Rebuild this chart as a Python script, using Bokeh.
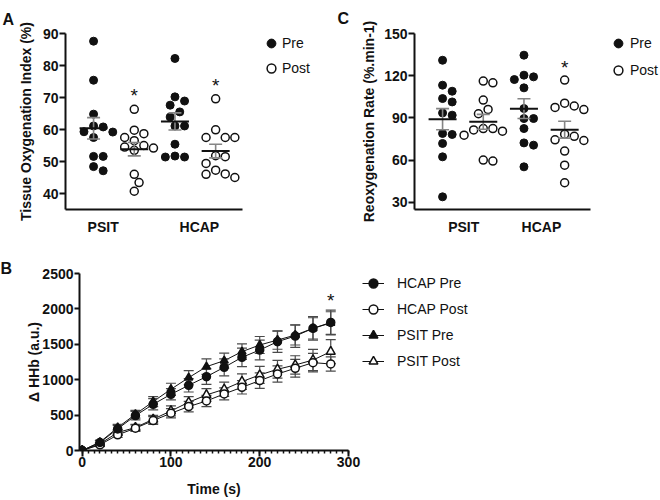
import numpy as np
from bokeh.plotting import figure
from bokeh.models import ColumnDataSource, Legend, LegendItem, Label, FixedTicker, Range1d, Spacer
from bokeh.layouts import column, row
from bokeh.embed import file_html
from bokeh.resources import INLINE
from bokeh.core.properties import value

FONT = "Liberation Sans"
INK = "#111111"

# ---------------- data ----------------
groups = ["PSIT", "HCAP"]
conditions = ["Pre", "Post"]

# Panel A: Tissue Oxygenation Index (%)
toi_psit_pre = [87.6, 75.4, 64.8, 61.1, 60.8, 59.3, 59.2, 57.5, 51.6, 51.6, 48.4, 47.1]
toi_psit_post = [66.3, 59.8, 58.7, 57.5, 56.5, 55.0, 54.5, 54.2, 53.5, 46.0, 43.4, 40.7]
toi_hcap_pre = [82.2, 70.2, 68.9, 67.6, 65.5, 63.9, 61.1, 61.1, 55.4, 51.4, 51.7, 51.4]
toi_hcap_post = [69.6, 59.9, 57.5, 57.5, 57.5, 51.8, 51.5, 49.4, 47.3, 46.1, 46.0, 45.0]
toi_significant = [False, True, False, True]
toi_yticks = [40, 50, 60, 70, 80, 90]

# Panel C: Reoxygenation rate (%.min-1)
reox_psit_pre = [131.0, 113.3, 109.0, 103.8, 101.4, 93.6, 92.0, 79.0, 78.3, 71.9, 62.4, 34.0]
reox_psit_post = [116.2, 115.0, 102.7, 96.1, 93.0, 82.5, 82.5, 81.5, 80.6, 77.8, 60.1, 59.4]
reox_hcap_pre = [134.6, 120.4, 119.2, 117.3, 111.4, 96.7, 89.6, 89.6, 82.5, 72.3, 70.7, 55.3]
reox_hcap_post = [116.9, 100.5, 98.5, 97.5, 96.0, 78.5, 77.0, 74.5, 74.0, 66.5, 56.5, 44.0]
reox_significant = [False, False, False, True]
reox_yticks = [30, 60, 90, 120, 150]

# Panel B: delta HHb (a.u.) over time
time_s = [0, 20, 40, 60, 80, 100, 120, 140, 160, 180, 200, 220, 240, 260, 280]
hcap_pre = [0, 113, 305, 493, 653, 794, 921, 1043, 1175, 1316, 1419, 1537, 1616, 1725, 1809]
hcap_pre_err = [0, 30, 50, 60, 80, 80, 95, 110, 120, 130, 140, 150, 160, 165, 175]
hcap_post = [0, 80, 221, 315, 423, 526, 620, 700, 799, 893, 987, 1081, 1161, 1241, 1222]
hcap_post_err = [0, 20, 35, 45, 55, 65, 75, 80, 85, 95, 110, 115, 125, 130, 100]
psit_pre = [0, 118, 324, 512, 691, 865, 1029, 1184, 1269, 1396, 1490, 1560, 1630, 1725, 1800]
psit_pre_err = [0, 25, 45, 55, 70, 85, 100, 110, 105, 110, 120, 130, 140, 150, 160]
psit_post = [0, 94, 254, 324, 442, 559, 681, 785, 865, 973, 1067, 1147, 1208, 1278, 1396]
psit_post_err = [0, 20, 40, 45, 55, 70, 80, 90, 100, 110, 120, 125, 130, 150, 170]
hhb_yticks = [0, 500, 1000, 1500, 2000, 2500]
time_ticks = [0, 100, 200, 300]
time_significant_last = True


def bare_fig(width, height):
    f = figure(width=width, height=height, x_range=Range1d(0, 1), y_range=Range1d(0, 1),
               output_backend="svg", toolbar_location=None,
               x_axis_location=None, y_axis_location=None,
               min_border=0, min_border_left=0, min_border_right=0,
               min_border_top=0, min_border_bottom=0)
    f.outline_line_color = None
    f.grid.visible = False
    f.background_fill_color = None
    f.border_fill_color = None
    return f


def add_letter(p, txt, x, y):
    p.add_layout(Label(x=x, y=y, x_units="canvas", y_units="canvas", text=txt, text_font=FONT,
                       text_font_style="bold", text_font_size="16px", text_color=INK,
                       text_baseline="alphabetic", text_align="left"), "above")


def legend_fig(width, height, entries, spacing, standoff):
    f = bare_fig(width, height)
    items = []
    for label, specs in entries:
        rs = []
        for kind, kw in specs:
            # legend-only renderers: one point placed outside the visible range
            if kind == "line":
                rs.append(f.line(x=[-3, -2], y=[-3, -2], **kw))
            else:
                rs.append(f.scatter(x=[-3], y=[-3], **kw))
        items.append(LegendItem(label=label, renderers=rs))
    leg = Legend(items=items, location="top_left", orientation="vertical",
                 glyph_width=22, glyph_height=22, label_height=22, label_standoff=standoff,
                 spacing=spacing, padding=0, margin=0, border_line_color=None,
                 background_fill_alpha=0, label_text_font=FONT, label_text_font_size="14px",
                 label_text_color=INK)
    f.add_layout(leg)
    return f


def style_axes(p):
    for ax in p.axis:
        ax.axis_line_width = 2
        ax.axis_line_color = INK
        ax.major_tick_line_width = 2
        ax.major_tick_line_color = INK
        ax.major_tick_in = 0
        ax.major_tick_out = 6
        ax.minor_tick_line_color = None
        ax.major_label_text_font = FONT
        ax.major_label_text_font_style = "bold"
        ax.major_label_text_font_size = "14px"
        ax.major_label_text_color = INK
        ax.axis_label_text_font = FONT
        ax.axis_label_text_font_style = "bold"
        ax.axis_label_text_font_size = "14px"
        ax.axis_label_text_color = INK
    p.xgrid.visible = False
    p.ygrid.visible = False
    p.outline_line_color = None
    p.background_fill_color = None
    p.border_fill_color = None


def set_label_standoff(ax, v, fallback=0):
    try:
        ax.axis_label_standoff = v
    except Exception:
        ax.axis_label_standoff = fallback


def swarm(vals, ppy, d):
    vals = np.asarray(vals, float)
    ys = vals * ppy
    offs = np.zeros(len(vals))
    placed = []
    for i in np.argsort(-vals):
        k = 0
        found = None
        while found is None:
            cands = [0.0] if k == 0 else [k * d / 2.0, -k * d / 2.0]
            for c in cands:
                if all((c - ox) ** 2 + (ys[i] - oy) ** 2 >= (0.97 * d) ** 2 for ox, oy in placed):
                    found = c
                    break
            k += 1
        offs[i] = found
        placed.append((found, ys[i]))
    return offs


PRE_STYLE = dict(marker="circle", size=8, fill_color=INK, line_color=INK, line_width=1)
POST_STYLE = dict(marker="circle", size=8, fill_color="white", line_color=INK, line_width=1.5)


def scatter_panel(series, significant, yr, yticks, ylabel, label_ticks,
                  width, height, mbl, mbr, mbt, mbb, als, star_offset):
    fw = width - mbl - mbr
    fh = height - mbt - mbb
    x0 = -0.69
    x1 = x0 + fw / 40.69
    p = figure(width=width, height=height, x_range=Range1d(x0, x1), y_range=Range1d(*yr),
               output_backend="svg", toolbar_location=None,
               min_border_left=mbl, min_border_right=mbr, min_border_top=mbt, min_border_bottom=mbb)
    ppx = fw / (x1 - x0)
    ppy = fh / (yr[1] - yr[0])

    srcs = {"Pre": {"x": [], "y": []}, "Post": {"x": [], "y": []}}
    for i, vals in enumerate(series):
        cond = conditions[i % 2]
        offs = swarm(vals, ppy, 9.6)
        srcs[cond]["x"].extend(list(i + offs / ppx))
        srcs[cond]["y"].extend(list(vals))
    p.scatter("x", "y", source=ColumnDataSource(srcs["Pre"]), **PRE_STYLE)
    p.scatter("x", "y", source=ColumnDataSource(srcs["Post"]), **POST_STYLE)

    idx = np.arange(len(series), dtype=float)
    means = np.array([np.mean(s) for s in series])
    sems = np.array([np.std(s, ddof=1) / np.sqrt(len(s)) for s in series])
    hw = 14.0 / ppx
    cw = 6.5 / ppx
    p.segment(x0=idx, x1=idx, y0=means - sems, y1=means + sems, line_color="#858585", line_width=1.6)
    p.segment(x0=idx - cw, x1=idx + cw, y0=means + sems, y1=means + sems, line_color="#858585", line_width=1.6)
    p.segment(x0=idx - cw, x1=idx + cw, y0=means - sems, y1=means - sems, line_color="#858585", line_width=1.6)
    p.segment(x0=idx - hw, x1=idx + hw, y0=means, y1=means, line_color=INK, line_width=2)

    sx = [i for i in range(len(series)) if significant[i]]
    sy = [max(series[i]) for i in sx]
    p.text(x=sx, y=sy, text=["*"] * len(sx), text_font=value(FONT), text_font_size="19px",
           text_align="center", text_baseline="alphabetic", y_offset=star_offset, text_color=INK)

    p.xaxis.ticker = FixedTicker(ticks=list(label_ticks))
    p.xaxis.major_label_overrides = {t: g for t, g in zip(label_ticks, groups)}
    p.yaxis.ticker = FixedTicker(ticks=yticks)
    p.yaxis.axis_label = ylabel
    style_axes(p)
    p.xaxis.major_tick_out = 0
    p.xaxis.major_tick_line_color = None
    p.xaxis.major_label_standoff = 9
    p.yaxis.major_label_standoff = 1
    for ax in p.yaxis:
        set_label_standoff(ax, als)
    return p


pA = scatter_panel([toi_psit_pre, toi_psit_post, toi_hcap_pre, toi_hcap_post], toi_significant,
                   (35, 90), toi_yticks, "Tissue Oxygenation Index (%)", [0.236, 2.60],
                   260, 246, 65, 18, 32, 37, 6, -13.5)
add_letter(pA, "A", 2, 18.5)
pC = scatter_panel([reox_psit_pre, reox_psit_post, reox_hcap_pre, reox_hcap_post], reox_significant,
                   (25, 150), reox_yticks, "Reoxygenation Rate (%.min-1)", [0.52, 2.43],
                   277, 246, 84, 17, 33, 37, 4, -12.5)
add_letter(pC, "C", 7, 18.3)

sc_entries = [(conditions[0], [("scatter", PRE_STYLE)]), (conditions[1], [("scatter", POST_STYLE)])]
legA = legend_fig(70, 214, sc_entries, 3, 0)
legC = legend_fig(53, 214, sc_entries, 5, 1)

# ---------------- Panel B ----------------
mbl, mbr, mbt, mbb = 79, 14, 27, 50
wB = 362
pB = figure(width=wB, height=254, x_range=Range1d(-3, 300), y_range=Range1d(0, 2500),
            output_backend="svg", toolbar_location=None,
            min_border_left=mbl, min_border_right=mbr, min_border_top=mbt, min_border_bottom=mbb)
fwB = wB - mbl - mbr
ppxB = fwB / 303.0

series_b = [
    ("HCAP Pre", hcap_pre, hcap_pre_err, "circle", INK, 8),
    ("HCAP Post", hcap_post, hcap_post_err, "circle", "white", 8),
    ("PSIT Pre", psit_pre, psit_pre_err, "triangle", INK, 8),
    ("PSIT Post", psit_post, psit_post_err, "triangle", "white", 9),
]
t = np.array(time_s, dtype=float)
for name, vals, err, mk, fill, sz in series_b:
    pB.line(t, vals, line_color=INK, line_width=1)
capw = 5.0 / ppxB
for name, vals, err, mk, fill, sz in series_b:
    v = np.array(vals, float)
    e = np.array(err, float)
    pB.segment(x0=t, x1=t, y0=v - e, y1=v + e, line_color="#4a4a4a", line_width=1.2)
    pB.segment(x0=t - capw, x1=t + capw, y0=v + e, y1=v + e, line_color="#4a4a4a", line_width=1.2)
    pB.segment(x0=t - capw, x1=t + capw, y0=v - e, y1=v - e, line_color="#4a4a4a", line_width=1.2)
for name, vals, err, mk, fill, sz in reversed(series_b):
    pB.scatter(t, vals, marker=mk, size=sz, fill_color=fill, line_color=INK, line_width=1.5)

if time_significant_last:
    pB.text(x=[time_s[-1]], y=[hcap_pre[-1] + hcap_pre_err[-1]], text=["*"], text_font=value(FONT),
            text_font_size="19px", text_align="center", text_baseline="alphabetic", y_offset=-9.5,
            text_color=INK)

pB.xaxis.ticker = FixedTicker(ticks=time_ticks, minor_ticks=list(np.arange(0, 300.01, 100.0 / 15)))
pB.yaxis.ticker = FixedTicker(ticks=hhb_yticks)
pB.xaxis.axis_label = "Time (s)"
pB.yaxis.axis_label = "\u0394 HHb (a.u.)"
style_axes(pB)
pB.xaxis.minor_tick_line_color = INK
pB.xaxis.minor_tick_line_width = 1.5
pB.xaxis.minor_tick_out = 3
pB.xaxis.minor_tick_in = 0
pB.xaxis.major_label_standoff = 0
pB.xaxis.axis_label_standoff = 11
pB.yaxis.major_tick_out = 5
pB.yaxis.major_label_standoff = 1
for ax in pB.yaxis:
    set_label_standoff(ax, -3, 0)
add_letter(pB, "B", 0, 22)

b_entries = []
for name, vals, err, mk, fill, sz in series_b:
    b_entries.append((name, [("line", dict(line_color=INK, line_width=1)),
                             ("scatter", dict(marker=mk, size=sz, fill_color=fill,
                                              line_color=INK, line_width=1.5))]))
legB = legend_fig(298, 228, b_entries, 4, 13)

top_row = row(pA, column(Spacer(width=70, height=32), legA), pC, column(Spacer(width=53, height=32), legC))
bottom_row = row(pB, column(Spacer(width=298, height=26), legB))
layout = column(top_row, bottom_row)
open("out.html", "w").write(file_html(layout, INLINE))
